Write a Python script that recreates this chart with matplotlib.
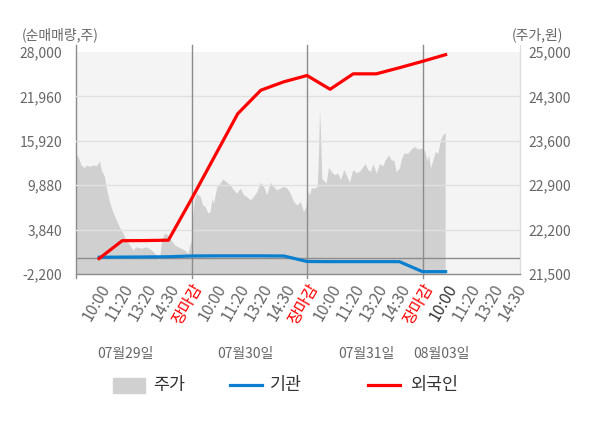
import matplotlib.pyplot as plt
import matplotlib.transforms as mtrans
from matplotlib.patches import Rectangle
from matplotlib.lines import Line2D

plt.rcParams['font.family'] = ['Noto Sans CJK KR', 'DejaVu Sans']

# x 라벨 (하루 5칸)
tick_labels = ["10:00", "11:20", "13:20", "14:30", "장마감"] * 3 + ["10:00", "11:20", "13:20", "14:30"]
dates = ["07월29일", "07월30일", "07월31일", "08월03일"]
date_pos = [2.14, 7.33, 12.56, 15.8]

# 순매매량 (주)
flow_x = [1, 2, 3, 4, 5, 6, 7, 8, 9, 10, 11, 12, 13, 14, 15, 16]
inst = [80, 100, 120, 150, 250, 270, 270, 270, 250, -500, -520, -520, -520, -520, -1880, -1880]
foreign = [-100, 2330, 2350, 2400, 8000, 13800, 19600, 22800, 23950, 24800,
           22930, 25030, 25030, 25860, 26730, 27640]

# 주가 (원)
price_x = [0.02, 0.11, 0.22, 0.37, 0.44, 0.58, 0.73, 0.87, 1.02, 1.09, 1.23, 1.33, 1.45,
           1.59, 1.74, 1.88, 2.03, 2.17, 2.32, 2.46, 2.6, 2.82, 3.04, 3.26, 3.47, 3.61,
           3.71, 3.83, 3.97, 4.12, 4.26, 4.41, 4.55, 4.7, 4.84, 4.91, 4.99,
           5.04, 5.13, 5.23, 5.38, 5.48, 5.59, 5.71, 5.81, 5.88, 5.95, 6.1, 6.24, 6.36,
           6.53, 6.67, 6.82, 6.96, 7.11, 7.25, 7.39, 7.54, 7.68, 7.83, 7.97, 8.12, 8.26,
           8.41, 8.55, 8.69, 8.84, 8.98, 9.13, 9.27, 9.42, 9.56, 9.71, 9.85, 9.95,
           10.04, 10.11, 10.18, 10.32, 10.44, 10.5, 10.54, 10.58, 10.64, 10.76, 10.83,
           10.93, 11.05, 11.19, 11.33, 11.45, 11.59, 11.74, 11.84, 11.98, 12.13, 12.27,
           12.42, 12.52, 12.63, 12.75, 12.85, 13.0, 13.14, 13.28, 13.39, 13.53, 13.64,
           13.76, 13.86, 14.0, 14.08, 14.19, 14.36, 14.51, 14.65, 14.8, 14.94,
           15.09, 15.2, 15.26, 15.35, 15.45, 15.55, 15.66, 15.78, 15.88, 15.98]
price = [23400, 23330, 23220, 23175, 23220, 23195, 23220, 23205, 23275, 23145, 23035, 22830, 22640,
         22485, 22355, 22245, 22145, 22035, 21960, 21880, 21930, 21905, 21930, 21880, 21800, 21720,
         22035, 22145, 22115, 22035, 21960, 21930, 21905, 21880, 21825, 21930, 22035,
         22380, 22695, 22775, 22720, 22590, 22565, 22460, 22485, 22695, 22615, 22880, 22935, 23000,
         22945, 22905, 22825, 22775, 22855, 22750, 22720, 22670, 22720, 22800, 22945, 22880, 22750,
         22945, 22880, 22825, 22855, 22880, 22855, 22775, 22640, 22590, 22640, 22485, 22565,
         22800, 22750, 22855, 22855, 22880, 23405, 24090, 23800, 23010, 22960, 22935,
         23185, 23115, 23065, 23090, 22985, 23145, 23030, 22945, 23145, 23100, 23115,
         23195, 23240, 23145, 23115, 23240, 23090, 23240, 23205, 23300, 23380, 23300,
         23290, 23115, 23170, 23310, 23405, 23405, 23470, 23510, 23470, 23485,
         23445, 23290, 23380, 23170, 23300, 23430, 23405, 23615, 23695, 23730]

W, H = 600, 428
fig = plt.figure(figsize=(6, 4.28), dpi=100)
ax = fig.add_axes([76 / W, 1 - 274 / H, 444 / W, 222 / H])
ax.set_facecolor("#f4f4f4")
ax2 = ax.twinx()

# 주가 면적
ax.fill_between(price_x, price, 21500, color="#d0d0d0", lw=0)
ax.set_ylim(21500, 25000)
ax.set_xlim(0, 19.22)

# 순매매량 선
for v in [3840, 9880, 15920, 21960]:
    ax2.axhline(v, color="#e0e0e0", lw=1, zorder=1)
ax2.axhline(0, color="#8c8c8c", lw=1, zorder=1)
for d in [5, 10, 15]:
    ax2.axvline(d, ymin=-0.018, ymax=1.0315, color="#8c8c8c", lw=1, clip_on=False, zorder=1)
ax2.plot(flow_x, inst, color="#0b7fcf", lw=2.3, zorder=3)
ax2.plot(flow_x, foreign, color="#ff0000", lw=2.3, zorder=4)
ax2.set_ylim(-2200, 28000)

# 축 위치 바꾸기
ax.yaxis.tick_right()
ax2.yaxis.tick_left()
for a in (ax, ax2):
    for s in a.spines.values():
        s.set_visible(False)
ax.plot([0, 0], [-0.018, 1.0315], transform=ax.transAxes, color="#8c8c8c", lw=1, clip_on=False)
ax.plot([1, 1], [0, 1.0315], transform=ax.transAxes, color="#dddddd", lw=1, clip_on=False)
ax.plot([0, 1], [0, 0], transform=ax.transAxes, color="#8c8c8c", lw=1, clip_on=False)

ax.set_yticks([21500, 22200, 22900, 23600, 24300, 25000])
ax.set_yticklabels(["21,500", "22,200", "22,900", "23,600", "24,300", "25,000"])
ax2.set_yticks([-2200, 3840, 9880, 15920, 21960, 28000])
ax2.set_yticklabels(["-2,200", "3,840", "9,880", "15,920", "21,960", "28,000"])
ax.tick_params(axis="y", length=0, pad=6, labelsize=10, labelcolor="#666666")
ax2.tick_params(axis="y", length=0, pad=10, labelsize=10, labelcolor="#666666")

ax.set_xticks(range(1, 20))
ax.set_xticklabels(tick_labels, rotation=60, ha="right", va="top", rotation_mode="anchor")
ax.tick_params(axis="x", length=0, pad=5, labelsize=11.5)
for i, t in enumerate(ax.get_xticklabels()):
    if tick_labels[i] == "장마감":
        t.set_color("#ff0000")
    elif i == 15:
        t.set_color("#333333")
    else:
        t.set_color("#666666")

tr = mtrans.blended_transform_factory(ax.transData, ax.transAxes)
for p, d in zip(date_pos, dates):
    ax.text(p, -0.36, d, transform=tr, ha="center", va="center", fontsize=10, color="#666666")

fig.text(22 / W, 1 - 35 / H, "(순매매량,주)", ha="left", va="center", fontsize=10, color="#666666")
fig.text(563 / W, 1 - 35 / H, "(주가,원)", ha="right", va="center", fontsize=10, color="#666666")

# 범례
ly = 1 - 385 / H
fig.patches.append(Rectangle((113 / W, 1 - 393 / H), 32 / W, 15 / H, transform=fig.transFigure,
                             color="#d0d0d0"))
fig.lines.append(Line2D([230 / W, 262 / W], [ly, ly], transform=fig.transFigure, color="#0b7fcf", lw=2.3))
fig.lines.append(Line2D([368 / W, 400 / W], [ly, ly], transform=fig.transFigure, color="#ff0000", lw=2.3))
for x0, name in [(153, "주가"), (270, "기관"), (410, "외국인")]:
    fig.text(x0 / W, ly, name, ha="left", va="center", fontsize=12.5, color="#333333")

fig.savefig("out.png", dpi=100)
